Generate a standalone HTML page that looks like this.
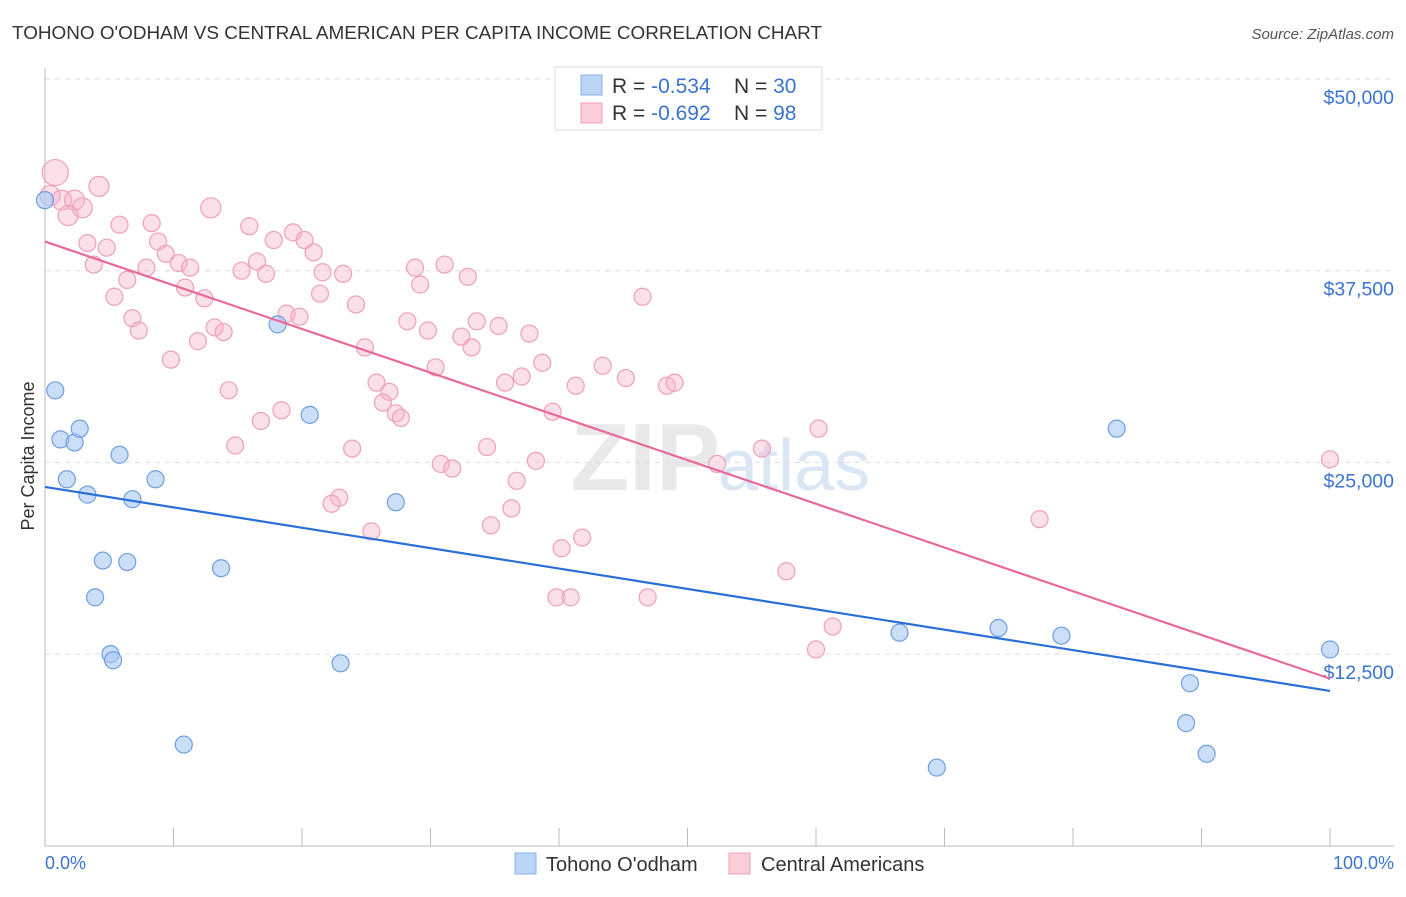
<!DOCTYPE html>
<html><head><meta charset="utf-8"><style>
body{margin:0;background:#fff;font-family:"Liberation Sans",sans-serif;}
svg text{font-family:"Liberation Sans",sans-serif;}
</style></head><body>
<svg id="chart" width="1406" height="892">
<text x="12" y="39" font-size="18" fill="#333" textLength="810" lengthAdjust="spacingAndGlyphs">TOHONO O'ODHAM VS CENTRAL AMERICAN PER CAPITA INCOME CORRELATION CHART</text>
<text x="1394" y="39" font-size="15" fill="#555" font-style="italic" text-anchor="end">Source: ZipAtlas.com</text>
<text x="720" y="490" font-size="96" fill="#e9e9e9" font-family="Liberation Serif" text-anchor="end" font-weight="bold">ZIP</text>
<text x="718" y="490" font-size="72" fill="#dbe6f5">atlas</text>
<g id="grid"></g><g id="axes"></g><g id="marks"></g>
<text transform="translate(34,456) rotate(-90)" font-size="18" fill="#333" text-anchor="middle">Per Capita Income</text>
<text x="45" y="869" font-size="18" fill="#3a73d0">0.0%</text>
<text x="1394" y="869" font-size="18" fill="#3a73d0" text-anchor="end">100.0%</text>
<g>
<rect x="555" y="67" width="267" height="63" fill="#fff" stroke="#ddd"/>
<rect x="581" y="75" width="21" height="20" fill="#bcd4f5" stroke="#8ab0e8"/>
<rect x="581" y="103" width="21" height="20" fill="#fbcdd9" stroke="#eea0b8"/>
<text x="612" y="93" font-size="21" fill="#333">R = <tspan fill="#3a73d0">-0.534</tspan></text>
<text x="734" y="93" font-size="21" fill="#333">N = <tspan fill="#3a73d0">30</tspan></text>
<text x="612" y="120" font-size="21" fill="#333">R = <tspan fill="#3a73d0">-0.692</tspan></text>
<text x="734" y="120" font-size="21" fill="#333">N = <tspan fill="#3a73d0">98</tspan></text>
</g>
<g>
<rect x="515" y="853" width="21" height="21" fill="#bcd4f5" stroke="#8ab0e8"/>
<text x="546" y="871" font-size="20" fill="#333">Tohono O'odham</text>
<rect x="729" y="853" width="21" height="21" fill="#fbcdd9" stroke="#eea0b8"/>
<text x="761" y="871" font-size="20" fill="#333">Central Americans</text>
</g>
</svg>
<script>
const yTicks=[12500,25000,37500,50000];
const yTickLabels=["$12,500","$25,000","$37,500","$50,000"];
const blueX=[0,0.8,1.2,2.3,2.7,1.7,3.3,5.8,6.8,8.6,4.5,6.4,3.9,13.7,5.1,5.3,18.1,20.6,27.3,23.0,10.8,83.4,66.5,74.2,79.1,100,89.1,88.8,90.4,69.4];
const blueY=[42.1,29.7,26.5,26.3,27.2,23.9,22.9,25.5,22.6,23.9,18.6,18.5,16.2,18.1,12.5,12.1,34.0,28.1,22.4,11.9,6.6,27.2,13.9,14.2,13.7,12.8,10.6,8.0,6.0,5.1];
const pinkX=[0.8,0.4,1.3,2.3,2.9,1.8,4.2,12.9,5.8,8.3,15.9,19.3,3.3,4.8,8.8,17.8,20.2,20.9,9.4,3.8,10.4,11.3,7.9,6.4,15.3,16.5,17.2,21.6,23.2,28.8,31.1,32.9,10.9,12.4,5.4,21.4,29.2,24.2,46.5,6.8,7.3,18.8,19.8,13.2,13.9,11.9,9.8,28.2,29.8,33.6,35.3,37.7,32.4,33.2,24.9,30.4,38.7,43.4,25.8,26.8,26.3,27.3,27.7,35.8,37.1,41.3,45.2,48.4,49.0,14.3,18.4,16.8,39.5,14.8,23.9,34.4,30.8,31.7,38.2,55.8,60.2,52.3,100,36.7,22.9,22.3,36.3,34.7,25.4,41.8,40.2,77.4,57.7,39.8,40.9,46.9,61.3,60.0];
const pinkY=[43.9,42.4,42.1,42.1,41.6,41.1,43.0,41.6,40.5,40.6,40.4,40.0,39.3,39.0,39.4,39.5,39.5,38.7,38.6,37.9,38.0,37.7,37.7,36.9,37.5,38.1,37.3,37.4,37.3,37.7,37.9,37.1,36.4,35.7,35.8,36.0,36.6,35.3,35.8,34.4,33.6,34.7,34.5,33.8,33.5,32.9,31.7,34.2,33.6,34.2,33.9,33.4,33.2,32.5,32.5,31.2,31.5,31.3,30.2,29.6,28.9,28.2,27.9,30.2,30.6,30.0,30.5,30.0,30.2,29.7,28.4,27.7,28.3,26.1,25.9,26.0,24.9,24.6,25.1,25.9,27.2,24.9,25.2,23.8,22.7,22.3,22.0,20.9,20.5,20.1,19.4,21.3,17.9,16.2,16.2,16.2,14.3,12.8];
const blueTrend=[23.4,10.1];
const pinkTrend=[39.4,10.9];
const NS="http://www.w3.org/2000/svg";
const xs=v=>45+v*12.85;
const ys=v=>79+(50000-v)*191.7/12500;
const yk=v=>ys(v*1000);
function mk(t,a,p){const e=document.createElementNS(NS,t);for(const k in a)e.setAttribute(k,a[k]);p.appendChild(e);return e;}
const grid=document.getElementById('grid'),axes=document.getElementById('axes'),marks=document.getElementById('marks');
yTicks.forEach((t,i)=>{
 const l=mk('line',{x1:45,x2:1394,y1:ys(t),y2:ys(t),stroke:'#ddd','stroke-dasharray':'5,5'},grid);
 
 
 const tx=mk('text',{x:1394,y:ys(t)+25,'font-size':19.5,fill:'#3a73d0','text-anchor':'end'},axes);
 tx.textContent=yTickLabels[i];
 
 
});
const ax=mk('line',{x1:45,x2:45,y1:68,y2:846,stroke:'#bbb'},axes);


const bx=mk('line',{x1:45,x2:1394,y1:846,y2:846,stroke:'#bbb'},axes);


for(let i=0;i<=10;i++){const t=mk('line',{x1:xs(i*10),x2:xs(i*10),y1:828,y2:846,stroke:'#bbb'},axes);
 
 }
pinkX.forEach((x,i)=>{const c=mk('circle',{cx:xs(x),cy:yk(pinkY[i]),r:i===0?13:(i<8?10:8.5),fill:'rgba(246,178,200,0.4)',stroke:'#ef9fba','stroke-width':1.2},marks);
 
 });
blueX.forEach((x,i)=>{const c=mk('circle',{cx:xs(x),cy:yk(blueY[i]),r:8.5,fill:'rgba(168,200,242,0.6)',stroke:'#6e9fe0','stroke-width':1.2},marks);
 
 });
const bl=mk('line',{x1:xs(0),y1:yk(blueTrend[0]),x2:xs(100),y2:yk(blueTrend[1]),stroke:'#2a6fd6','stroke-width':2.2},marks);


const pl=mk('line',{x1:xs(0),y1:yk(pinkTrend[0]),x2:xs(100),y2:yk(pinkTrend[1]),stroke:'#e8699a','stroke-width':2.2},marks);


</script>
</body></html>
